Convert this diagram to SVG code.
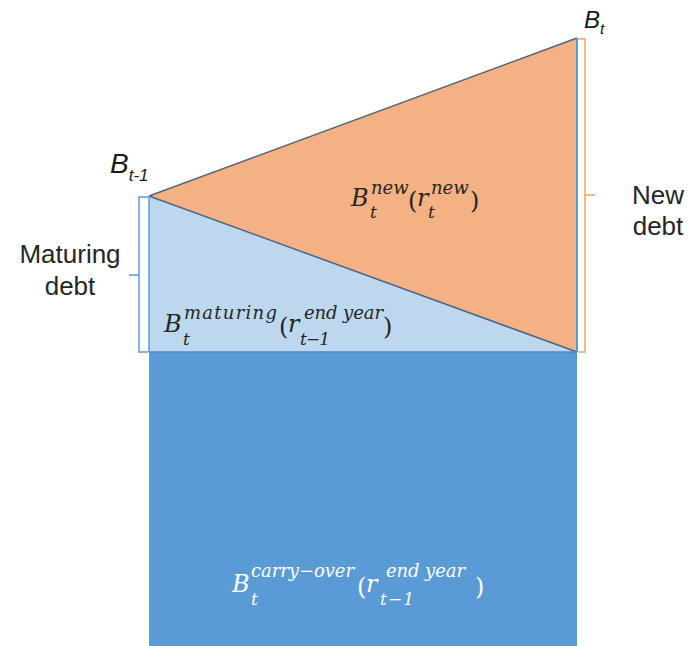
<svg xmlns="http://www.w3.org/2000/svg" width="689" height="646" viewBox="0 0 689 646">
<style>
.lbl{font-family:"Liberation Sans",Arial,sans-serif;font-size:26px;fill:#262626;text-anchor:middle}
.bl{font-family:"Liberation Sans",Arial,sans-serif;font-style:italic;fill:#1a1a1a}
.m{font-family:"DejaVu Serif",serif;font-style:italic}
.big{font-size:24px}
.sup{font-size:18px}
.sub{font-size:17px}
.p{font-family:"DejaVu Serif",serif;font-style:normal;font-size:24px}
.edge{stroke:#4d6580;stroke-width:1.5;fill:none}
</style>
<rect width="689" height="646" fill="#ffffff"/>
<g id="carry-over">
<rect x="149" y="352" width="428" height="294" fill="#5b9bd5"/>
<text class="m" fill="#ffffff"><tspan class="big" x="232" y="592">B</tspan><tspan class="sup" x="251" y="577" textLength="103">carry−over</tspan></text>
<text class="m" fill="#ffffff"><tspan class="sub" x="251" y="605">t</tspan></text>
<text class="m" fill="#ffffff"><tspan class="p" x="357" y="595">(</tspan><tspan class="big" x="366" y="592">r</tspan><tspan class="sup" x="386" y="577" textLength="79">end year</tspan></text>
<text class="m" fill="#ffffff"><tspan class="sub" x="380" y="605" textLength="34">t−1</tspan></text>
<text class="m" fill="#ffffff"><tspan class="p" x="475" y="595">)</tspan></text>
</g>
<g id="maturing">
<polygon points="149,196 577,352 149,352" fill="#bdd7ee"/>
<text class="m" fill="#262626"><tspan class="big" x="164" y="332">B</tspan><tspan class="sup" x="184" y="319" textLength="93">maturing</tspan></text>
<text class="m" fill="#262626"><tspan class="sub" x="183" y="345">t</tspan></text>
<text class="m" fill="#262626"><tspan class="p" x="279" y="335">(</tspan><tspan class="big" x="288" y="332">r</tspan><tspan class="sup" x="304" y="319" textLength="79">end year</tspan></text>
<text class="m" fill="#262626"><tspan class="sub" x="300" y="345" textLength="30">t−1</tspan></text>
<text class="m" fill="#262626"><tspan class="p" x="383" y="335">)</tspan></text>
</g>
<g id="new">
<polygon points="149,196 577,38 577,352" fill="#f4b183"/>
<text class="m" fill="#262626"><tspan class="big" x="351" y="206">B</tspan><tspan class="sup" x="371" y="194">new</tspan></text>
<text class="m" fill="#262626"><tspan class="sub" x="370" y="218">t</tspan></text>
<text class="m" fill="#262626"><tspan class="p" x="408" y="209">(</tspan><tspan class="big" x="417" y="206">r</tspan><tspan class="sup" x="431" y="194">new</tspan></text>
<text class="m" fill="#262626"><tspan class="sub" x="428" y="218">t</tspan></text>
<text class="m" fill="#262626"><tspan class="p" x="470" y="209">)</tspan></text>
</g>
<g id="connectors">
<line class="edge" x1="149" y1="196" x2="577" y2="38"/>
<line class="edge" x1="149" y1="196" x2="577" y2="352"/>
<line x1="577" y1="38" x2="577" y2="352" stroke="#5b9bd5" stroke-width="2"/>
<line x1="149" y1="196" x2="149" y2="352" stroke="#5b9bd5" stroke-width="1.5"/>
<line x1="149" y1="352" x2="577" y2="352" stroke="#4f88c6" stroke-width="1.5"/>
<path d="M148,197 H139 V352 H148 M139,275 H129" fill="none" stroke="#5b9bd5" stroke-width="1.5"/>
<path d="M578,39 H585 V352 H578 M585,195 H595" fill="none" stroke="#f4a463" stroke-width="1.5"/>
</g>
<g id="label-bt1">
<text class="bl" x="110" y="173" font-size="28">B<tspan font-size="17" y="181">t-1</tspan></text>
</g>
<g id="label-bt">
<text class="bl" x="584" y="28" font-size="24">B<tspan font-size="15" y="34">t</tspan></text>
</g>
<g id="label-maturing">
<text class="lbl" x="70" y="263">Maturing</text>
<text class="lbl" x="70" y="295">debt</text>
</g>
<g id="label-new">
<text class="lbl" x="658" y="204">New</text>
<text class="lbl" x="658" y="235">debt</text>
</g>
</svg>
